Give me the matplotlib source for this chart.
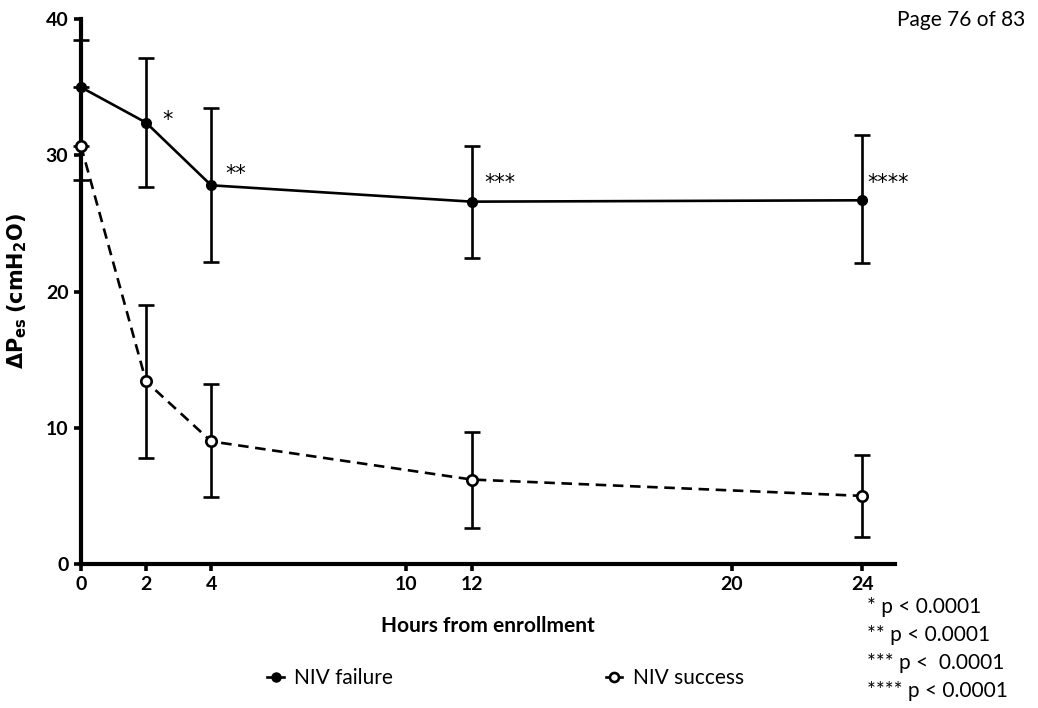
import numpy as np
import matplotlib.pyplot as plt
from matplotlib.lines import Line2D

plt.rcParams['font.family'] = ['Lato', 'DejaVu Sans']

hours = [0, 2, 4, 12, 24]

fail_mean = [35.0, 32.4, 27.8, 26.6, 26.7]
fail_lo = [0.0, 4.75, 5.6, 4.15, 4.6]
fail_hi = [3.5, 4.75, 5.7, 4.1, 4.8]

succ_mean = [30.7, 13.4, 9.0, 6.2, 5.0]
succ_lo = [2.5, 5.6, 4.1, 3.55, 3.0]
succ_hi = [0.0, 5.6, 4.2, 3.5, 3.0]

stars = ['', '*', '**', '***', '****']
star_x = [0, 2.5, 4.45, 12.4, 24.15]
star_y = [0, 32.6, 28.6, 28.0, 28.0]

xticks = [0, 2, 4, 10, 12, 20, 24]
yticks = [0, 10, 20, 30, 40]
footnotes = ['* p < 0.0001', '** p < 0.0001', '*** p <  0.0001', '**** p < 0.0001']

fig = plt.figure(figsize=(10.38, 7.08), dpi=100)
ax = fig.add_axes([0.078, 0.2034, 0.784, 0.7696])

ax.errorbar(hours, fail_mean, yerr=[fail_lo, fail_hi], color='black', lw=1.9,
            marker='o', ms=7, mfc='black', mec='black', elinewidth=1.9,
            capsize=6, capthick=1.9, zorder=3, clip_on=False)
ax.errorbar(hours, succ_mean, yerr=[succ_lo, succ_hi], color='black', lw=1.9,
            ls='--', dashes=(4, 2.5), marker='o', ms=7.5, mfc='white', mec='black',
            mew=1.9, elinewidth=1.9, capsize=6, capthick=1.9, zorder=3, clip_on=False)

for s, x, y in zip(stars, star_x, star_y):
    if s:
        ax.text(x, y, s, fontsize=15, va='center', ha='left', family='DejaVu Sans')

ax.set_xlim(0, 25)
ax.set_ylim(0, 40)
ax.set_xticks(xticks)
ax.set_yticks(yticks)
ax.tick_params(width=2.6, length=5, labelsize=14, pad=4)
for lab in ax.get_xticklabels() + ax.get_yticklabels():
    lab.set_fontweight('bold')
ax.spines['top'].set_visible(False)
ax.spines['right'].set_visible(False)
ax.spines['left'].set_linewidth(3)
ax.spines['bottom'].set_linewidth(3)

ax.set_xlabel('Hours from enrollment', fontsize=15, fontweight='bold', labelpad=16)
ax.set_ylabel(r'$\mathbf{\Delta P_{es}}$ $\mathbf{(cmH_2O)}$', fontsize=15, labelpad=12)

handles = [
    Line2D([], [], color='black', lw=1.9, marker='o', ms=6.5, mfc='black'),
    Line2D([], [], color='black', lw=1.9, marker='o', ms=6.5, mfc='white', mew=1.9),
]
fig.legend(handles, ['NIV failure', 'NIV success'], loc='center',
           bbox_to_anchor=(0.487, 0.042), ncol=2, frameon=False, fontsize=15,
           handlelength=0.8, columnspacing=10.2, handletextpad=0.5)

for i, t in enumerate(footnotes):
    fig.text(0.835, 1 - (607 + 28 * i) / 708, t, fontsize=15, va='center', ha='left')

fig.text(0.988, 0.972, 'Page 76 of 83', fontsize=15, ha='right', va='center')

fig.savefig('out.png', dpi=100)
